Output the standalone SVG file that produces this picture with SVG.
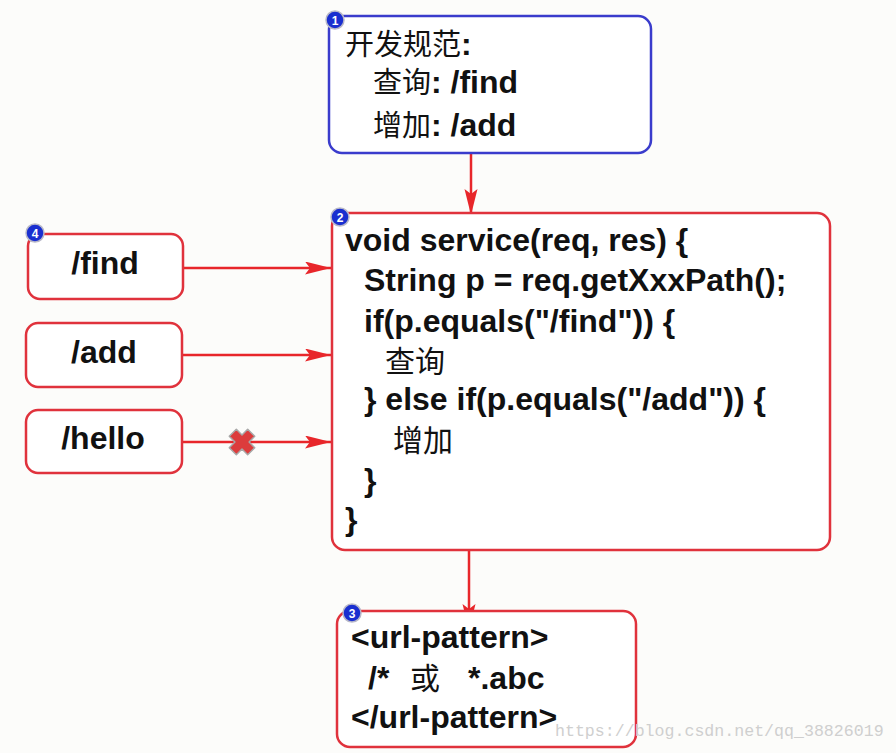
<svg xmlns="http://www.w3.org/2000/svg" width="896" height="753" viewBox="0 0 896 753">
<defs>
<style>
.box{fill:#ffffff;stroke-width:2.5}
.red{stroke:#e0323c}
.blue{stroke:#3a3ccc}
.t{font-family:"Liberation Sans",Arial,"Noto Sans CJK SC",sans-serif;font-weight:bold;font-size:32px;fill:#111}
.c{font-family:"Noto Sans CJK SC","Liberation Sans",sans-serif;font-weight:normal;font-size:30px;fill:#111}
.c1{font-size:29px}
.conn{stroke:#e8262a;stroke-width:2.5;fill:none}
.badge{fill:#1a2fd0;stroke:#b8b8c8;stroke-width:1.5}
.bn{font-family:"Liberation Sans",Arial,sans-serif;font-weight:bold;font-size:12px;fill:#fff;text-anchor:middle}
</style>
<marker id="ah" markerUnits="userSpaceOnUse" markerWidth="27" markerHeight="14" refX="26" refY="6.5" orient="auto">
<path d="M0,0 L26,6.5 L0,13 L5,6.5 z" fill="#e8262a"/>
</marker>
</defs>
<rect width="896" height="753" fill="#fcfcfa"/>

<g id="connectors">
<line class="conn" x1="471" y1="143" x2="471" y2="215" marker-end="url(#ah)"/>
<line class="conn" x1="183" y1="268" x2="331" y2="268" marker-end="url(#ah)"/>
<line class="conn" x1="182" y1="355" x2="331" y2="355" marker-end="url(#ah)"/>
<line class="conn" x1="182" y1="442" x2="331" y2="442" marker-end="url(#ah)"/>
<line class="conn" x1="469" y1="540" x2="469" y2="630" marker-end="url(#ah)"/>
<g id="xmark" transform="translate(242,442) rotate(45)">
<polygon points="5,-13 5,-5 13,-5 13,5 5,5 5,13 -5,13 -5,5 -13,5 -13,-5 -5,-5 -5,-13" fill="#dc3c3c" stroke="#a8a8a8" stroke-width="1.5" stroke-linejoin="round"/>
</g>
</g>

<g id="node1">
<rect class="box blue" x="329" y="16" width="322" height="137" rx="13"/>
<circle class="badge" cx="335" cy="20" r="9"/>
<text class="bn" x="335" y="24.5">1</text>
<text class="c c1" x="345" y="55">开发规范<tspan class="t">:</tspan></text>
<text class="c c1" x="373" y="93">查询<tspan class="t">: /find</tspan></text>
<text class="c c1" x="373" y="136">增加<tspan class="t">: /add</tspan></text>
</g>

<g id="node2">
<rect class="box red" x="332" y="213" width="498" height="337" rx="13"/>
<circle class="badge" cx="340" cy="217" r="9"/>
<text class="bn" x="340" y="221.5">2</text>
<text class="t" x="345" y="251">void service(req, res) {</text>
<text class="t" x="364" y="291">String p = req.getXxxPath();</text>
<text class="t" x="364" y="332">if(p.equals("/find")) {</text>
<text class="c" x="385" y="372">查询</text>
<text class="t" x="364" y="410">} else if(p.equals("/add")) {</text>
<text class="c" x="393" y="451">增加</text>
<text class="t" x="364" y="491">}</text>
<text class="t" x="345" y="530">}</text>
</g>

<g id="node3">
<rect class="box red" x="337" y="611" width="299" height="136" rx="13"/>
<circle class="badge" cx="352" cy="613" r="9"/>
<text class="bn" x="352" y="617.5">3</text>
<text class="t" x="351" y="648">&lt;url-pattern&gt;</text>
<text class="t" x="368" y="689">/*</text>
<text class="c" x="410" y="689">或</text>
<text class="t" x="468" y="689">*.abc</text>
<text class="t" x="351" y="728">&lt;/url-pattern&gt;</text>
</g>

<g id="node4">
<rect class="box red" x="28" y="234" width="155" height="65" rx="12"/>
<circle class="badge" cx="35" cy="233" r="9"/>
<text class="bn" x="35" y="237.5">4</text>
<text class="t" x="105" y="274" text-anchor="middle">/find</text>
</g>

<g id="node5">
<rect class="box red" x="26" y="323" width="156" height="64" rx="12"/>
<text class="t" x="104" y="363" text-anchor="middle">/add</text>
</g>

<g id="node6">
<rect class="box red" x="26" y="410" width="156" height="63" rx="12"/>
<text class="t" x="103" y="449" text-anchor="middle">/hello</text>
</g>

<text x="555" y="736" font-family="'Liberation Mono','DejaVu Sans Mono',monospace" font-size="16.6" fill="#cfcfcf">https://blog.csdn.net/qq_38826019</text>
</svg>
